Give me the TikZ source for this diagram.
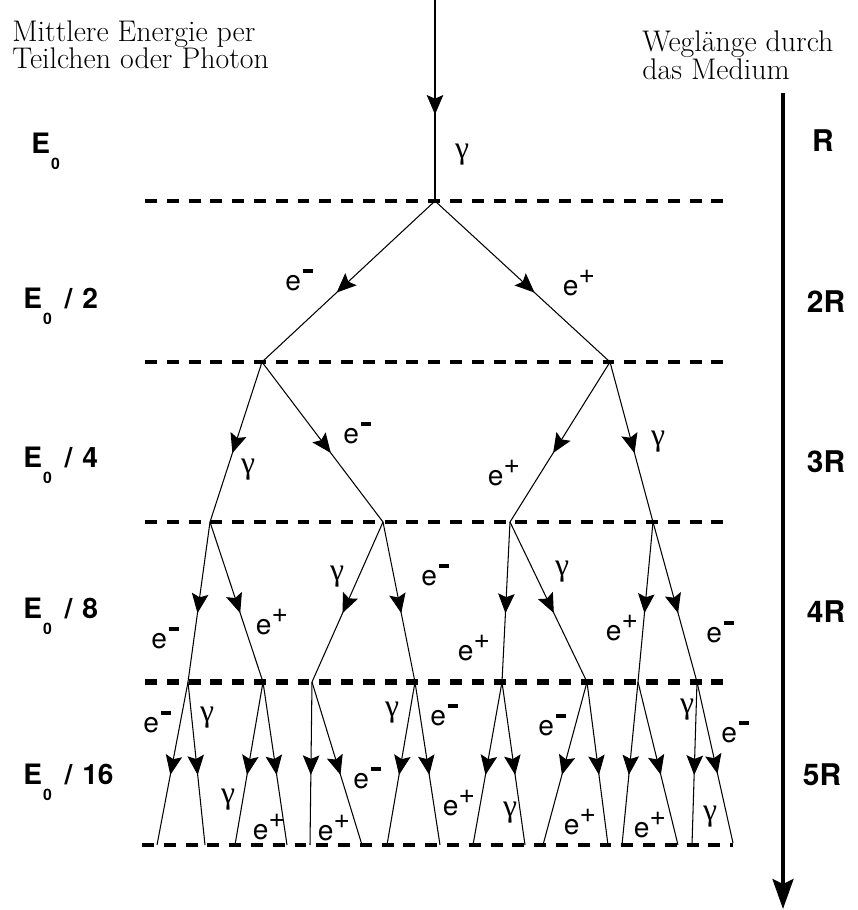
\documentclass[tikz,border=0pt]{standalone}
\usepackage{fontspec}
\setsansfont{TeX Gyre Heros}
\newfontfamily\greekfont{Liberation Serif}
\usetikzlibrary{arrows.meta, decorations.markings}

\newcommand{\elneg}{e\kern0.06em\rule[0.6em]{0.36em}{0.15em}}
\newcommand{\elpos}{e\raisebox{0.42em}{+}}
\newcommand{\phot}{{\greekfont\fontsize{18}{18}\selectfont γ}}
\newcommand{\ezero}[1]{E\kern0.04em\raisebox{-0.6em}{\fontsize{9}{9}\selectfont 0}\hspace{0.45em}/\hspace{0.35em}#1}

\begin{document}
\begin{tikzpicture}[x=0.02cm, y=-0.02cm,
    level/.style={line width=2.3pt, dash pattern=on 6.8pt off 5.6pt},
    particle/.style={line width=0.6pt, postaction={decorate}, decoration={markings, mark=at position 0.57 with {\arrow{Stealth[length=3.9mm,width=3.3mm,inset=0.7mm]}}}},
    plabel/.style={font=\sffamily\fontsize{16}{18}\selectfont, inner sep=0pt},
    elabel/.style={font=\sffamily\bfseries\fontsize{16}{18}\selectfont, anchor=base west, inner sep=0pt},
    rlabel/.style={font=\sffamily\bfseries\fontsize{17}{19}\selectfont, inner sep=0pt},
    head/.style={align=left, anchor=north west, inner sep=0pt},
    depth/.style={line width=1.9pt, -{Stealth[length=6mm,width=4.2mm,inset=1mm]}}
]
    \useasboundingbox (0,0) rectangle (858,910);

    % Überschriften
    \node[head, font=\fontsize{17}{15.4}\selectfont] (energy) at (12,20) {Mittlere Energie per\\Teilchen oder Photon};
    \node[head, font=\fontsize{17}{13.8}\selectfont] (pathlen) at (642,30) {Weglänge durch\\das Medium};

    % Ebenen (gestrichelt)
    \draw[level] (145,201) -- (725,201);
    \draw[level] (145,362) -- (725,362);
    \draw[level] (145,522) -- (725,522);
    \draw[level, line width=3.4pt] (145,682) -- (725,682);
    \draw[level] (142,845) -- (733,845);

    % Verzweigungspunkte
    \coordinate (src) at (435,0);
    \coordinate (v) at (435,201);
    \coordinate (a1) at (262,362); \coordinate (a2) at (610,362);
    \coordinate (b1) at (210,522); \coordinate (b2) at (383,522);
    \coordinate (b3) at (510,522); \coordinate (b4) at (653,522);
    \coordinate (c1) at (188,682); \coordinate (c2) at (263,682);
    \coordinate (c3) at (312,682); \coordinate (c4) at (415,682);
    \coordinate (c5) at (502,682); \coordinate (c6) at (587,682);
    \coordinate (c7) at (638,682); \coordinate (c8) at (697,682);
    \coordinate (d1) at (157,845);  \coordinate (d2) at (205,845);
    \coordinate (d3) at (235,845);  \coordinate (d4) at (287,845);
    \coordinate (d5) at (310,845);  \coordinate (d6) at (362,845);
    \coordinate (d7) at (387,845);  \coordinate (d8) at (440,845);
    \coordinate (d9) at (473,845);  \coordinate (d10) at (525,845);
    \coordinate (d11) at (543,845); \coordinate (d12) at (608,845);
    \coordinate (d13) at (622,845); \coordinate (d14) at (678,845);
    \coordinate (d15) at (692,845); \coordinate (d16) at (733,843);

    % Teilchenbahnen
    \draw[particle] (src) -- (v);
    \draw[particle] (v) -- (a1);   \draw[particle] (v) -- (a2);
    \draw[particle] (a1) -- (b1);  \draw[particle] (a1) -- (b2);
    \draw[particle] (a2) -- (b3);  \draw[particle] (a2) -- (b4);
    \draw[particle] (b1) -- (c1);  \draw[particle] (b1) -- (c2);
    \draw[particle] (b2) -- (c3);  \draw[particle] (b2) -- (c4);
    \draw[particle] (b3) -- (c5);  \draw[particle] (b3) -- (c6);
    \draw[particle] (b4) -- (c7);  \draw[particle] (b4) -- (c8);
    \draw[particle] (c1) -- (d1);  \draw[particle] (c1) -- (d2);
    \draw[particle] (c2) -- (d3);  \draw[particle] (c2) -- (d4);
    \draw[particle] (c3) -- (d5);  \draw[particle] (c3) -- (d6);
    \draw[particle] (c4) -- (d7);  \draw[particle] (c4) -- (d8);
    \draw[particle] (c5) -- (d9);  \draw[particle] (c5) -- (d10);
    \draw[particle] (c6) -- (d11); \draw[particle] (c6) -- (d12);
    \draw[particle] (c7) -- (d13); \draw[particle] (c7) -- (d14);
    \draw[particle] (c8) -- (d15); \draw[particle] (c8) -- (d16);

    % Beschriftung der Teilchen
    \node[plabel] (t1) at (462,155) {\phot};
    \node[plabel] (t2a) at (299,280) {\elneg};
    \node[plabel] (t2b) at (579,283) {\elpos};
    \node[plabel] (t3a) at (248,470) {\phot};
    \node[plabel] (t3b) at (357,433) {\elneg};
    \node[plabel] (t3c) at (504,473) {\elpos};
    \node[plabel] (t3d) at (658,442) {\phot};
    \node[plabel] (t4a) at (165,638) {\elneg};
    \node[plabel] (t4b) at (272,622) {\elpos};
    \node[plabel] (t4c) at (337,577) {\phot};
    \node[plabel] (t4d) at (435,575) {\elneg};
    \node[plabel] (t4e) at (474,648) {\elpos};
    \node[plabel] (t4f) at (562,572) {\phot};
    \node[plabel] (t4g) at (622,628) {\elpos};
    \node[plabel] (t4h) at (720,632) {\elneg};
    \node[plabel] (t5a) at (157,722) {\elneg};
    \node[plabel] (t5b) at (207,718) {\phot};
    \node[plabel] (t5c) at (228,800) {\phot};
    \node[plabel] (t5d) at (269,827) {\elpos};
    \node[plabel] (t5e) at (334,828) {\elpos};
    \node[plabel] (t5f) at (367,778) {\elneg};
    \node[plabel] (t5g) at (392,713) {\phot};
    \node[plabel] (t5h) at (444,715) {\elneg};
    \node[plabel] (t5i) at (459,803) {\elpos};
    \node[plabel] (t5j) at (510,813) {\phot};
    \node[plabel] (t5k) at (552,725) {\elneg};
    \node[plabel] (t5l) at (580,822) {\elpos};
    \node[plabel] (t5m) at (650,825) {\elpos};
    \node[plabel] (t5n) at (687,710) {\phot};
    \node[plabel] (t5o) at (735,732) {\elneg};
    \node[plabel] (t5p) at (710,817) {\phot};

    % Energie links
    \node[elabel] (e0) at (31,153) {E\kern0.04em\raisebox{-0.6em}{\fontsize{9}{9}\selectfont 0}};
    \node[elabel] (e2) at (23,308) {\ezero{2}};
    \node[elabel] (e4) at (23,467) {\ezero{4}};
    \node[elabel] (e8) at (23,618) {\ezero{8}};
    \node[elabel] (e16) at (23,784) {\ezero{16}};

    % Weglaenge rechts
    \node[rlabel] (r1) at (823,141) {R};
    \node[rlabel] (r2) at (826,302) {2R};
    \node[rlabel] (r3) at (826,462) {3R};
    \node[rlabel] (r4) at (826,612) {4R};
    \node[rlabel] (r5) at (822,775) {5R};

    \coordinate (dtop) at (783,93);
    \coordinate (dbot) at (783,909);
    \draw[depth] (dtop) -- (dbot);
\end{tikzpicture}
\end{document}
